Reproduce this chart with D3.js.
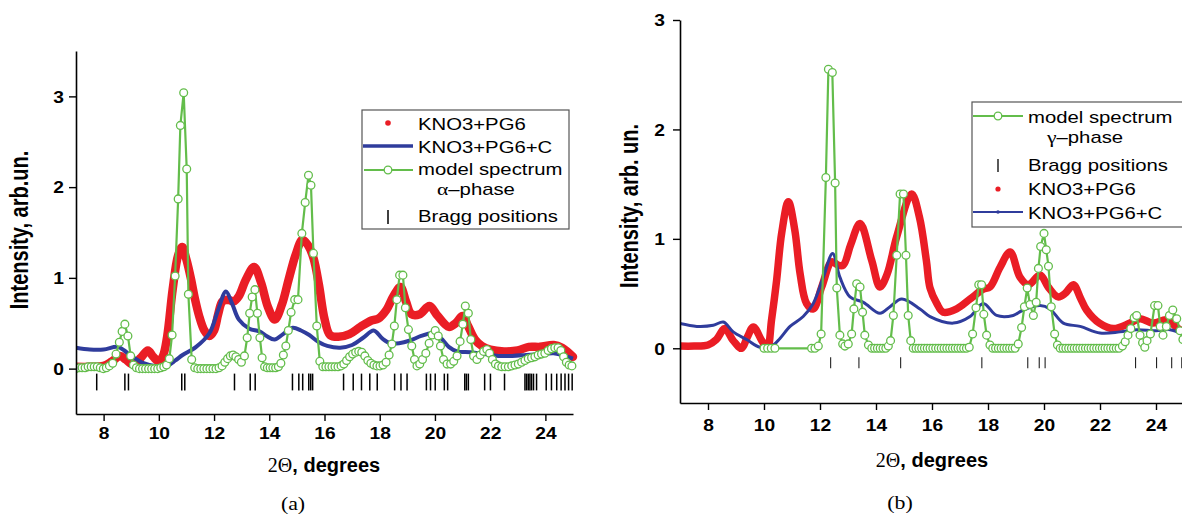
<!DOCTYPE html>
<html>
<head>
<meta charset="utf-8">
<script src="https://cdn.jsdelivr.net/npm/d3@7"></script>
<style>
body{margin:0;background:#fff;}
svg{display:block;font-family:"Liberation Sans",Arial,sans-serif;}
</style>
</head>
<body>
<svg id="chart" width="1182" height="515"></svg>
<script>
// ---- data ----
const xMajor = [8, 10, 12, 14, 16, 18, 20, 22, 24];
const xMinor = [7, 9, 11, 13, 15, 17, 19, 21, 23, 25];
const yMajor = [0, 1, 2, 3];

const legendA = ['KNO3+PG6', 'KNO3+PG6+C', 'model spectrum', 'α–phase', 'Bragg positions'];
const legendB = ['model spectrum', 'γ–phase', 'Bragg positions', 'KNO3+PG6', 'KNO3+PG6+C'];

// (a) KNO3+PG6
const redA = [[7.0,0.02],[7.5,0.02],[8.0,0.03],[8.3,0.08],[8.6,0.14],[8.8,0.1],[9.05,0.05],[9.35,0.12],[9.6,0.2],[9.8,0.13],[10.0,0.08],[10.15,0.14],[10.3,0.35],[10.5,0.87],[10.7,1.25],[10.85,1.34],[11.0,1.2],[11.17,0.98],[11.3,0.78],[11.47,0.57],[11.65,0.42],[11.83,0.36],[12.0,0.42],[12.15,0.6],[12.3,0.74],[12.5,0.76],[12.7,0.74],[12.9,0.8],[13.15,0.98],[13.45,1.12],[13.7,0.95],[13.95,0.68],[14.2,0.54],[14.45,0.7],[14.7,0.98],[14.95,1.25],[15.2,1.42],[15.4,1.36],[15.6,1.22],[15.8,0.92],[16.0,0.55],[16.2,0.37],[16.5,0.35],[16.9,0.38],[17.3,0.46],[17.7,0.53],[17.95,0.55],[18.25,0.65],[18.5,0.8],[18.75,0.9],[18.95,0.74],[19.15,0.6],[19.45,0.6],[19.8,0.69],[20.1,0.58],[20.5,0.46],[20.75,0.5],[21.0,0.58],[21.2,0.47],[21.45,0.32],[21.7,0.25],[22.0,0.21],[22.5,0.19],[23.0,0.2],[23.4,0.24],[23.8,0.24],[24.3,0.26],[24.6,0.23],[25.0,0.13]];
// (a) KNO3+PG6+C
const blueA = [[7.0,0.23],[7.5,0.21],[8.0,0.21],[8.5,0.24],[8.75,0.2],[8.95,0.15],[9.2,0.1],[9.45,0.06],[9.9,0.025],[10.35,0.04],[10.6,0.09],[10.86,0.15],[11.35,0.24],[11.83,0.39],[12.15,0.65],[12.43,0.85],[12.65,0.72],[12.9,0.54],[13.28,0.44],[13.64,0.41],[13.9,0.36],[14.19,0.32],[14.5,0.38],[14.85,0.45],[15.15,0.42],[15.45,0.37],[15.8,0.29],[16.1,0.25],[16.57,0.23],[17.0,0.26],[17.4,0.34],[17.78,0.42],[18.1,0.33],[18.38,0.28],[18.7,0.28],[19.1,0.31],[19.5,0.36],[19.9,0.39],[20.2,0.34],[20.5,0.24],[20.8,0.19],[21.3,0.18],[21.8,0.16],[22.3,0.14],[22.8,0.14],[23.3,0.15],[23.8,0.16],[24.3,0.17],[24.6,0.15],[25.0,0.11]];
// (a) model spectrum, alpha phase
const modelA = [[7.00,0.00],[7.11,0.01],[7.22,0.01],[7.33,0.01],[7.44,0.02],[7.55,0.02],[7.66,0.02],[7.77,0.02],[7.88,0.01],[7.99,0.00],[8.10,0.01],[8.21,0.03],[8.33,0.06],[8.45,0.16],[8.57,0.29],[8.67,0.41],[8.77,0.49],[8.88,0.36],[8.98,0.14],[9.08,0.04],[9.19,0.01],[9.30,0.00],[9.41,0.00],[9.52,0.00],[9.63,0.00],[9.74,0.00],[9.85,0.00],[9.96,0.00],[10.07,0.01],[10.18,0.02],[10.28,0.04],[10.38,0.11],[10.48,0.37],[10.59,1.02],[10.70,1.87],[10.78,2.68],[10.90,3.04],[11.01,2.20],[11.07,0.82],[11.19,0.10],[11.30,0.01],[11.41,0.00],[11.52,0.00],[11.63,0.00],[11.74,0.00],[11.85,0.00],[11.96,0.00],[12.07,0.00],[12.18,0.01],[12.29,0.03],[12.39,0.07],[12.49,0.11],[12.59,0.14],[12.69,0.15],[12.79,0.13],[12.89,0.10],[12.99,0.07],[13.10,0.14],[13.20,0.34],[13.29,0.61],[13.38,0.79],[13.48,0.87],[13.57,0.61],[13.66,0.34],[13.74,0.12],[13.83,0.02],[13.93,0.01],[14.03,0.01],[14.13,0.01],[14.23,0.01],[14.33,0.02],[14.42,0.06],[14.51,0.15],[14.60,0.25],[14.69,0.42],[14.79,0.62],[14.92,0.76],[15.04,0.76],[15.18,1.49],[15.30,1.83],[15.42,2.13],[15.51,2.02],[15.60,1.27],[15.72,0.47],[15.83,0.08],[15.94,0.02],[16.05,0.02],[16.16,0.02],[16.27,0.02],[16.38,0.02],[16.49,0.02],[16.60,0.03],[16.70,0.05],[16.80,0.09],[16.91,0.13],[17.02,0.16],[17.13,0.18],[17.24,0.19],[17.35,0.18],[17.46,0.14],[17.57,0.09],[17.68,0.06],[17.79,0.04],[17.90,0.03],[18.01,0.03],[18.12,0.04],[18.23,0.07],[18.34,0.15],[18.44,0.27],[18.53,0.47],[18.62,0.76],[18.72,1.03],[18.84,1.03],[18.93,0.67],[19.04,0.43],[19.16,0.25],[19.26,0.10],[19.35,0.03],[19.45,0.05],[19.55,0.10],[19.67,0.17],[19.79,0.28],[19.90,0.37],[20.01,0.42],[20.12,0.36],[20.20,0.25],[20.31,0.10],[20.44,0.05],[20.57,0.05],[20.68,0.08],[20.80,0.14],[20.91,0.30],[21.01,0.49],[21.10,0.69],[21.21,0.61],[21.30,0.32],[21.40,0.14],[21.52,0.10],[21.64,0.15],[21.76,0.19],[21.88,0.21],[21.98,0.17],[22.08,0.10],[22.19,0.05],[22.30,0.03],[22.42,0.02],[22.54,0.02],[22.66,0.02],[22.78,0.03],[22.90,0.04],[23.02,0.05],[23.14,0.07],[23.26,0.09],[23.38,0.11],[23.50,0.12],[23.62,0.13],[23.74,0.15],[23.86,0.16],[23.98,0.17],[24.10,0.20],[24.22,0.22],[24.34,0.23],[24.46,0.23],[24.56,0.20],[24.66,0.13],[24.76,0.07],[24.86,0.04],[24.96,0.03]];
const braggA = [7.75,8.77,8.90,10.83,10.94,12.74,13.31,13.49,14.84,15.07,15.21,15.43,15.50,15.57,16.69,17.04,17.34,17.64,17.91,18.54,18.77,18.99,19.69,19.84,20.01,20.34,20.46,21.08,21.14,21.21,21.80,22.01,22.52,23.26,23.32,23.38,23.44,23.50,23.57,23.68,24.03,24.22,24.41,24.57,24.71,24.84,24.97];

// (b) KNO3+PG6
const redB = [[7.0,0.02],[7.5,0.02],[8.0,0.03],[8.3,0.08],[8.6,0.18],[8.9,0.07],[9.2,0.0],[9.4,0.1],[9.62,0.195],[9.92,0.07],[10.12,0.0],[10.27,0.26],[10.45,0.62],[10.63,1.05],[10.87,1.34],[11.1,1.08],[11.29,0.68],[11.52,0.41],[11.76,0.36],[12.06,0.56],[12.42,0.79],[12.65,0.76],[12.83,0.76],[13.1,0.95],[13.43,1.14],[13.85,0.8],[14.14,0.56],[14.4,0.68],[14.74,1.02],[15.27,1.41],[15.55,1.2],[15.8,0.8],[15.93,0.55],[16.17,0.41],[16.4,0.33],[16.88,0.36],[17.36,0.45],[17.83,0.54],[18.07,0.56],[18.43,0.74],[18.79,0.88],[19.14,0.65],[19.44,0.58],[19.86,0.67],[20.15,0.56],[20.5,0.47],[20.75,0.5],[21.05,0.58],[21.3,0.46],[21.52,0.35],[21.98,0.23],[22.48,0.18],[23.07,0.23],[23.43,0.27],[23.9,0.23],[24.38,0.26],[24.74,0.19],[25.0,0.14]];
// (b) KNO3+PG6+C
const blueB = [[7.0,0.226],[7.6,0.2],[8.19,0.21],[8.55,0.24],[8.9,0.15],[9.38,0.08],[9.86,0.01],[10.33,0.03],[10.57,0.09],[10.93,0.2],[11.4,0.29],[11.76,0.41],[12.12,0.65],[12.45,0.866],[12.71,0.65],[13.07,0.47],[13.55,0.42],[14.14,0.32],[14.5,0.38],[14.92,0.45],[15.57,0.36],[15.93,0.29],[16.76,0.23],[17.36,0.29],[17.83,0.41],[18.31,0.3],[18.9,0.3],[19.26,0.35],[19.86,0.39],[20.21,0.36],[20.69,0.23],[21.29,0.2],[22.0,0.14],[22.71,0.15],[23.31,0.17],[24.0,0.16],[24.5,0.17],[24.93,0.13]];
// (b) model spectrum, gamma phase
const modelB = [[10.00,0],[10.13,0],[10.26,0],[10.39,0],[11.70,0],[11.82,0],[11.94,0.02],[12.04,0.13],[12.21,1.56],[12.30,2.55],[12.44,2.52],[12.54,1.51],[12.60,0.55],[12.71,0.12],[12.81,0.04],[12.89,0.02],[13.01,0.04],[13.13,0.13],[13.21,0.36],[13.31,0.59],[13.43,0.56],[13.52,0.33],[13.60,0.12],[13.73,0.03],[13.85,0],[13.95,0],[14.05,0],[14.15,0],[14.25,0],[14.35,0],[14.44,0.02],[14.52,0.07],[14.62,0.30],[14.74,0.85],[14.86,1.41],[14.98,1.41],[15.07,0.85],[15.15,0.30],[15.24,0.07],[15.33,0],[15.43,0],[15.53,0],[15.63,0],[15.73,0],[15.83,0],[15.93,0],[16.03,0],[16.13,0],[16.23,0],[16.33,0],[16.43,0],[16.53,0],[16.63,0],[16.73,0],[16.83,0],[16.93,0],[17.03,0],[17.13,0],[17.23,0],[17.33,0.01],[17.45,0.13],[17.57,0.37],[17.67,0.58],[17.77,0.58],[17.85,0.31],[17.95,0.12],[18.07,0.03],[18.17,0],[18.27,0],[18.37,0],[18.47,0],[18.57,0],[18.67,0],[18.77,0],[18.87,0],[18.97,0],[19.08,0.04],[19.20,0.19],[19.30,0.38],[19.40,0.55],[19.50,0.40],[19.62,0.30],[19.72,0.42],[19.80,0.73],[19.88,0.93],[20.00,1.05],[20.08,0.90],[20.16,0.75],[20.26,0.38],[20.38,0.13],[20.48,0.03],[20.58,0],[20.68,0],[20.78,0],[20.88,0],[20.98,0],[21.08,0],[21.18,0],[21.28,0],[21.38,0],[21.48,0],[21.58,0],[21.68,0],[21.78,0],[21.88,0],[21.98,0],[22.08,0],[22.18,0],[22.28,0],[22.38,0],[22.48,0],[22.58,0],[22.68,0],[22.80,0.02],[22.90,0.06],[23.00,0.12],[23.10,0.18],[23.22,0.28],[23.31,0.30],[23.43,0.12],[23.52,0.05],[23.60,0.01],[23.68,0.07],[23.80,0.13],[23.95,0.39],[24.07,0.39],[24.15,0.20],[24.25,0.12],[24.37,0.20],[24.48,0.30],[24.60,0.35],[24.74,0.27],[24.86,0.16],[24.96,0.08]];
const braggB = [12.38,13.39,14.88,17.78,19.42,19.83,20.04,23.27,24.02,24.56,24.92];

// ---- styling ----
const RED = '#ea1d25', BLUE = '#2f3c9c', GREEN = '#63bd4b';
const SX = 1.27;   // source figure text is stretched horizontally
const SERIF = '"Liberation Serif","Times New Roman",serif';

const svg = d3.select('#chart');

function place(sel, x, y, sx) {
	return sel.attr('transform', `translate(${x},${y}) scale(${sx},1)`)
}

function drawPanel(cfg) {
	const g = svg.append('g').attr('class', cfg.id)
	const x = d3.scaleLinear().domain([7, 25]).range([cfg.x0, cfg.x1])
	const y = d3.scaleLinear().domain(cfg.yDomain).range([cfg.yBottom, cfg.yTop])

	g.append('clipPath').attr('id', 'clip-' + cfg.id)
		.append('rect')
		.attr('x', cfg.x0).attr('y', cfg.yTop - 10)
		.attr('width', cfg.x1 - cfg.x0 + 6).attr('height', cfg.yBottom - cfg.yTop + 10)

	const plot = g.append('g').attr('clip-path', `url(#clip-${cfg.id})`)

	//Bragg positions
	plot.selectAll('.bragg').data(cfg.bragg).join('line')
		.attr('x1', d => x(d)).attr('x2', d => x(d))
		.attr('y1', y(cfg.braggTop)).attr('y2', y(cfg.braggBottom))
		.attr('stroke', cfg.braggColor).attr('stroke-width', cfg.braggW)

	const smooth = d3.line().x(d => x(d[0])).y(d => y(d[1])).curve(d3.curveCatmullRom.alpha(0.5))
	const straight = d3.line().x(d => x(d[0])).y(d => y(d[1]))

	plot.append('path').datum(cfg.red)
		.attr('d', smooth).attr('fill', 'none')
		.attr('stroke', RED).attr('stroke-width', cfg.redW)
		.attr('stroke-linejoin', 'round').attr('stroke-linecap', 'round')

	plot.append('path').datum(cfg.blue)
		.attr('d', smooth).attr('fill', 'none')
		.attr('stroke', BLUE).attr('stroke-width', cfg.blueW)
		.attr('stroke-linejoin', 'round')

	plot.append('path').datum(cfg.model)
		.attr('d', straight).attr('fill', 'none')
		.attr('stroke', GREEN).attr('stroke-width', 2.2)

	plot.selectAll('.pt').data(cfg.model).join('circle')
		.attr('cx', d => x(d[0])).attr('cy', d => y(d[1])).attr('r', 3.9)
		.attr('fill', '#fff').attr('stroke', GREEN).attr('stroke-width', 1.3)

	//axes
	const gx = g.append('g').attr('transform', `translate(0,${cfg.yBottom})`)
	gx.call(d3.axisBottom(x).tickValues(xMinor).tickSize(4).tickSizeOuter(0).tickFormat(''))
	gx.call(d3.axisBottom(x).tickValues(xMajor).tickSize(7).tickSizeOuter(0).tickFormat(d3.format('d')))
	gx.selectAll('text')
		.attr('y', cfg.xLabelDy).attr('dy', null)
		.attr('transform', 'scale(1.2,1)')
		.style('font-size', '16px').style('font-weight', 'bold').attr('fill', '#000')

	const gy = g.append('g').attr('transform', `translate(${cfg.x0},0)`)
	gy.call(d3.axisLeft(y).tickValues(cfg.yMinor).tickSize(4).tickSizeOuter(0).tickFormat(''))
	gy.call(d3.axisLeft(y).tickValues(yMajor).tickSize(7).tickSizeOuter(0).tickFormat(d3.format('d')))
	gy.selectAll('text')
		.attr('x', -cfg.yLabelDx / 1.2).attr('dy', '0.36em')
		.attr('transform', 'scale(1.2,1)')
		.style('font-size', '16px').style('font-weight', 'bold').attr('fill', '#000')

	g.selectAll('.domain').attr('stroke', '#000').attr('stroke-width', 1.6)
	g.selectAll('.tick line').attr('stroke', '#000').attr('stroke-width', 1.4)

	//axis titles
	const xt = g.append('text').attr('x', cfg.xTitle[0]).attr('y', cfg.xTitle[1])
		.attr('text-anchor', 'middle').style('font-size', '20px')
	xt.append('tspan').text('2Θ').style('font-family', SERIF)
	xt.append('tspan').text(', degrees').style('font-weight', 'bold')

	g.append('text')
		.attr('transform', `translate(${cfg.yTitle[0]},${cfg.yTitle[1]}) scale(1.25,1) rotate(-90)`)
		.attr('text-anchor', 'middle')
		.style('font-size', '20px').style('font-weight', 'bold')
		.text(cfg.yTitleText)

	place(g.append('text'), cfg.tag[0], cfg.tag[1], 1.15)
		.attr('text-anchor', 'middle')
		.style('font-family', SERIF)
		.style('font-size', '19px')
		.text(cfg.tagText)

	return g
}

//legend label; a leading greek letter is set in a serif face, as in the source
function legendText(g, label, x, y) {
	const t = place(g.append('text'), x, y, SX).style('font-size', '16px')
	if (/^[α-ω]/.test(label)) {
		t.append('tspan').style('font-family', SERIF).style('font-size', '17px').text(label[0])
		t.append('tspan').text(label.slice(1))
	} else {
		t.text(label)
	}
}

const gA = drawPanel({
	id: 'a', x0: 76, x1: 573, yTop: 51, yBottom: 414,
	yDomain: [-0.5, 3.5], yMinor: [-0.5, 0.5, 1.5, 2.5, 3.5],
	red: redA, blue: blueA, model: modelA, bragg: braggA,
	redW: 8.5, blueW: 4, braggTop: -0.055, braggBottom: -0.24, braggW: 1.5, braggColor: '#000',
	xLabelDy: 25, yLabelDx: 12,
	xTitle: [324, 472], yTitle: [28, 230], yTitleText: 'Intensity, arb.un.',
	tag: [293, 510], tagText: '(a)'
})

const gB = drawPanel({
	id: 'b', x0: 680, x1: 1184, yTop: 20, yBottom: 403,
	yDomain: [-0.5, 3], yMinor: [-0.5, 0.5, 1.5, 2.5],
	red: redB, blue: blueB, model: modelB, bragg: braggB,
	redW: 7.5, blueW: 3, braggTop: -0.082, braggBottom: -0.183, braggW: 1.1, braggColor: '#222',
	xLabelDy: 28, yLabelDx: 15,
	xTitle: [932, 467], yTitle: [638, 206], yTitleText: 'Intensity, arb. un.',
	tag: [900, 509], tagText: '(b)'
})

//legend (a)
const lA = gA.append('g')
lA.append('rect').attr('x', 362).attr('y', 110).attr('width', 207).attr('height', 119)
	.attr('fill', '#fff').attr('stroke', '#555').attr('stroke-width', 1.2)
lA.append('circle').attr('cx', 388).attr('cy', 123).attr('r', 2.8).attr('fill', RED)
lA.append('line').attr('x1', 363).attr('x2', 413).attr('y1', 146).attr('y2', 146).attr('stroke', BLUE).attr('stroke-width', 3.5)
lA.append('line').attr('x1', 364).attr('x2', 413).attr('y1', 170).attr('y2', 170).attr('stroke', GREEN).attr('stroke-width', 2.2)
lA.append('circle').attr('cx', 388).attr('cy', 170).attr('r', 3.8).attr('fill', '#fff').attr('stroke', GREEN).attr('stroke-width', 1.3)
lA.append('line').attr('x1', 388).attr('x2', 388).attr('y1', 210).attr('y2', 224).attr('stroke', '#000').attr('stroke-width', 1.5)
legendText(lA, legendA[0], 418, 130)
legendText(lA, legendA[1], 418, 153)
legendText(lA, legendA[2], 418, 175)
legendText(lA, legendA[3], 437, 195)
legendText(lA, legendA[4], 418, 222)

//legend (b)
const lB = gB.append('g')
lB.append('rect').attr('x', 972).attr('y', 102).attr('width', 214).attr('height', 125)
	.attr('fill', '#fff').attr('stroke', '#555').attr('stroke-width', 1.2)
lB.append('line').attr('x1', 973).attr('x2', 1023).attr('y1', 116).attr('y2', 116).attr('stroke', GREEN).attr('stroke-width', 2.2)
lB.append('circle').attr('cx', 998).attr('cy', 116).attr('r', 3.8).attr('fill', '#fff').attr('stroke', GREEN).attr('stroke-width', 1.3)
lB.append('line').attr('x1', 998).attr('x2', 998).attr('y1', 159).attr('y2', 172).attr('stroke', '#000').attr('stroke-width', 1.3)
lB.append('circle').attr('cx', 998).attr('cy', 189).attr('r', 2.6).attr('fill', RED)
lB.append('line').attr('x1', 973).attr('x2', 1023).attr('y1', 212).attr('y2', 212).attr('stroke', BLUE).attr('stroke-width', 2)
lB.append('circle').attr('cx', 998).attr('cy', 212).attr('r', 1.8).attr('fill', BLUE)
legendText(lB, legendB[0], 1028, 123)
legendText(lB, legendB[1], 1047, 143)
legendText(lB, legendB[2], 1028, 171)
legendText(lB, legendB[3], 1028, 195)
legendText(lB, legendB[4], 1028, 219)
</script>
</body>
</html>
